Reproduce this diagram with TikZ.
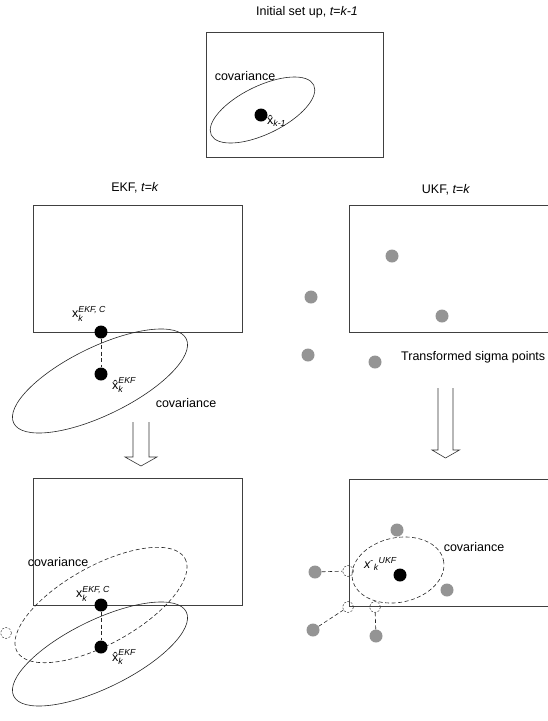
\documentclass[tikz,border=0pt]{standalone}
\usepackage{fontspec}
\setmainfont{Liberation Sans}
\usepackage{amsmath}
\tikzset{
  panel/.style={draw=black!75, line width=0.7pt},
  cov/.style={draw=black!85, line width=0.6pt},
  covdash/.style={cov, dash pattern=on 4pt off 2.5pt},
  estdot/.style={circle, fill=black, inner sep=0pt, minimum size=13pt},
  sigdot/.style={circle, fill=black!42, inner sep=0pt, minimum size=13pt},
  clipmark/.style={circle, draw=black!80, line width=0.5pt, dash pattern=on 2pt off 1.5pt, inner sep=0pt, minimum size=11pt},
  lbl/.style={font=\fontsize{12.5}{14}\selectfont, inner sep=0pt},
  hollow/.style={draw=black!80, line width=0.6pt},
}
\begin{document}
\begin{tikzpicture}[x=1pt,y=-1pt]
  \useasboundingbox (0,0) rectangle (548,721);
  \clip (0,0) rectangle (548,721);

  % initial set up
  \node[lbl] (title0) at (307,12) {Initial set up, \textit{t=k-1}};
  \draw[panel] (206,32) rectangle (383,157);
  \coordinate (c0) at (262.5,110);
  \draw[cov, rotate around={26:(c0)}] (c0) ellipse (57 and 24);
  \node[estdot] (x0) at (261,115) {};
  \node[lbl] (cov0) at (245,76) {covariance};
  \node[lbl, anchor=west] (lx0) at (267,121) {$\text{\^{x}}_{\textit{k-1}}$};

  % EKF, prediction
  \node[lbl] (titleE) at (135,188) {EKF, \textit{t=k}};
  \draw[panel] (33,205) rectangle (242,332);
  \coordinate (c1) at (100,381);
  \draw[cov, rotate around={26:(c1)}] (c1) ellipse (96 and 34);
  \node[estdot] (xc1) at (101,332) {};
  \node[estdot] (xh1) at (101,374) {};
  \draw[covdash] (xc1) -- (xh1);
  \node[lbl, anchor=west] (lxc1) at (72,314) {$\text{x}_{\textit{k}}^{\textit{EKF, C}}$};
  \node[lbl, anchor=west] (lxh1) at (112,385) {$\text{\^{x}}_{\textit{k}}^{\textit{EKF}}$};
  \node[lbl] (cov1) at (186,403) {covariance};
  \draw[hollow] (133,422) -- ++(0,35) -- ++(-8,0) -- ++(16,9) -- ++(16,-9) -- ++(-8,0) -- ++(0,-35);

  % EKF, corrected
  \draw[panel] (33,478) rectangle (242,605);
  \coordinate (c2) at (100,654);
  \coordinate (c3) at (101,605);
  \draw[cov, rotate around={26:(c2)}] (c2) ellipse (96 and 34);
  \draw[covdash, rotate around={29:(c3)}] (c3) ellipse (96 and 39);
  \node[estdot] (xc2) at (101,605) {};
  \node[estdot] (xh2) at (101,647) {};
  \draw[covdash] (xc2) -- (xh2);
  \node[clipmark] (m0) at (6,633) {};
  \node[lbl] (cov2) at (58,562) {covariance};
  \node[lbl, anchor=west] (lxc2) at (76,594) {$\text{x}_{\textit{k}}^{\textit{EKF, C}}$};
  \node[lbl, anchor=west] (lxh2) at (112,657) {$\text{\^{x}}_{\textit{k}}^{\textit{EKF}}$};

  % UKF, sigma points
  \node[lbl] (titleU) at (446,190) {UKF, \textit{t=k}};
  \draw[panel] (349,205) rectangle (570,332);
  \node[sigdot] (s1) at (392,256) {};
  \node[sigdot] (s2) at (311,297) {};
  \node[sigdot] (s3) at (442,316) {};
  \node[sigdot] (s4) at (308,355) {};
  \node[sigdot] (s5) at (375,362) {};
  \node[lbl, anchor=west] (sig) at (401,357) {Transformed sigma points};
  \draw[hollow] (438,388) -- ++(0,62) -- ++(-6,0) -- ++(13.5,8) -- ++(14,-8) -- ++(-6.5,0) -- ++(0,-62);

  % UKF, result
  \draw[panel] (349,479) rectangle (570,606);
  \coordinate (c4) at (398,570);
  \draw[covdash, rotate around={12:(c4)}] (c4) ellipse (46.5 and 32.3);
  \node[sigdot] (u1) at (397,530) {};
  \node[sigdot] (u2) at (315,572) {};
  \node[sigdot] (u3) at (447,590) {};
  \node[sigdot] (u4) at (313,630) {};
  \node[sigdot] (u5) at (376,636) {};
  \node[estdot] (xu) at (400,575) {};
  \node[clipmark] (m1) at (348,571) {};
  \node[clipmark] (m2) at (348,607) {};
  \node[clipmark] (m3) at (375,607) {};
  \draw[covdash] (u2) -- (m1);
  \draw[covdash] (u4) -- (m2);
  \draw[covdash] (u5) -- (m3);
  \node[lbl] (cov3) at (474,547) {covariance};
  \node[lbl, anchor=west] (lxu) at (364,564) {$\textit{x}^{\text{-}}{}_{\textit{k}}{}^{\textit{UKF}}$};
\end{tikzpicture}
\end{document}
